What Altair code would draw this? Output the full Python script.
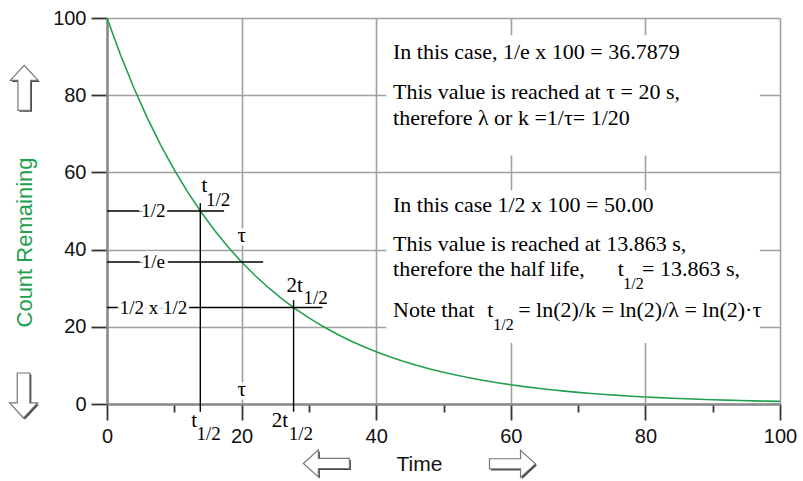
import altair as alt
import pandas as pd

# Radioactive decay: count remaining vs time (s), tau = 20 s
time_s = list(range(0, 101, 2))
count = [100.0, 90.48, 81.87, 74.08, 67.03, 60.65, 54.88, 49.66, 44.93, 40.66,
         36.79, 33.29, 30.12, 27.25, 24.66, 22.31, 20.19, 18.27, 16.53, 14.96,
         13.53, 12.25, 11.08, 10.03, 9.07, 8.21, 7.43, 6.72, 6.08, 5.50,
         4.98, 4.50, 4.08, 3.69, 3.34, 3.02, 2.73, 2.47, 2.24, 2.02,
         1.83, 1.66, 1.50, 1.36, 1.23, 1.11, 1.01, 0.91, 0.82, 0.74, 0.67]

TAU = 20.0
T_HALF = 13.863
TWO_T_HALF = 27.726
ONE_OVER_E = 36.7879
HALF = 50.0
QUARTER = 25.0

GREEN = "#23a04f"
SERIF = "Liberation Serif"
SANS = "Liberation Sans"

xs = alt.Scale(domain=[0, 100], nice=False, zero=False)
ys = alt.Scale(domain=[0, 100], nice=False, zero=False)
MAJOR = "datum.value % 20 === 0"


def axis_common(**kw):
    return alt.Axis(
        values=list(range(0, 101, 10)),
        labelExpr=f"{MAJOR} ? datum.label : ''",
        labelFont=SANS, labelFontSize=20, labelColor="#111",
        labelFlush=False, labelOverlap=False,
        tickSize={"condition": {"test": MAJOR, "value": 16}, "value": 8},
        tickColor="#333", tickWidth=1.8,
        domainColor="#8a8a8a", domainWidth=2.5,
        gridColor="#a0a0a0", gridWidth=1.6,
        gridOpacity={"condition": {"test": MAJOR, "value": 1}, "value": 0},
        titleFont=SANS, titleFontWeight="normal",
        **kw,
    )


x_axis = axis_common(title="Time", titleX=312, titleY=66, titleBaseline="alphabetic",
                     titleAlign="center", titleColor="#111", titleFontSize=21,
                     labelPadding=6)
y_axis = axis_common(title="Count Remaining", titleAngle=270, titleX=-83, titleY=224,
                     titleBaseline="middle", titleAlign="center", titleColor=GREEN,
                     titleFontSize=22, labelPadding=5)

curve_df = pd.DataFrame({"t": time_s, "n": count})

# white panels behind the explanatory notes
boxes = pd.DataFrame({
    "x": [41.5, 41.5], "x2": [97.0, 97.0],
    "y": [95.5, 55.4], "y2": [64.4, 15.8],
})

# construction lines for 1/2, 1/e and 1/4 levels
guides = pd.DataFrame({
    "x":  [0, 0, 0, T_HALF, TWO_T_HALF],
    "x2": [17.4, 23.2, 32.0, T_HALF, TWO_T_HALF],
    "y":  [HALF, ONE_OVER_E, QUARTER, -2.0, -2.0],
    "y2": [HALF, ONE_OVER_E, QUARTER, 52.0, 26.9],
})

level_labels = pd.DataFrame({
    "x": [6.9, 6.9, 6.9],
    "y": [HALF, ONE_OVER_E, QUARTER],
    "label": ["1/2", "1/e", "1/2 x 1/2"],
})

tau_labels = pd.DataFrame({"x": [TAU, TAU], "y": [41.9, 2.1], "label": ["τ", "τ"]})

# t and 2t with their 1/2 subscripts
t_main = pd.DataFrame({
    "x": [14.9, 29.1, 13.4, 26.9],
    "y": [54.8, 29.0, -5.95, -5.95],
    "label": ["t", "2t", "t", "2t"],
})
t_sub = pd.DataFrame({
    "x": [14.7, 29.2, 13.3, 27.0],
    "y": [51.3, 26.0, -9.3, -9.3],
    "label": ["1/2", "1/2", "1/2", "1/2"],
})

notes = pd.DataFrame({
    "x": [42.5, 42.5, 42.5, 42.5, 42.5, 42.5, 75.9, 79.5, 42.5, 56.5, 61.1],
    "y": [89.5, 79.0, 72.4, 49.7, 39.6, 33.1, 33.1, 33.1, 22.5, 22.5, 22.5],
    "label": [
        "In this case, 1/e x 100 = 36.7879",
        "This value is reached at  τ = 20 s,",
        "therefore  λ or k =1/τ= 1/20",
        "In this case 1/2 x 100 = 50.00",
        "This value is reached at 13.863 s,",
        "therefore the half life,",
        "t",
        "= 13.863 s,",
        "Note that",
        "t",
        "= ln(2)/k = ln(2)/λ = ln(2)·τ",
    ],
})
notes_sub = pd.DataFrame({"x": [76.7, 57.4], "y": [29.9, 19.3], "label": ["1/2", "1/2"]})

UP = "M0,-1 L0.62,-0.33 L0.28,-0.33 L0.28,1 L-0.28,1 L-0.28,-0.33 L-0.62,-0.33 Z"
DOWN = "M0,1 L0.62,0.33 L0.28,0.33 L0.28,-1 L-0.28,-1 L-0.28,0.33 L-0.62,0.33 Z"
LEFT = "M-1,0 L-0.35,-0.59 L-0.35,-0.22 L1,-0.22 L1,0.22 L-0.35,0.22 L-0.35,0.59 Z"
RIGHT = "M1,0 L0.35,-0.59 L0.35,-0.22 L-1,-0.22 L-1,0.22 L0.35,0.22 L0.35,0.59 Z"
arrows = pd.DataFrame({
    "x": [-12.3, -12.4, 32.6, 60.25],
    "y": [81.9, 2.2, -15.4, -15.5],
    "dir": ["up", "down", "left", "right"],
    "sz": [2025, 2025, 2116, 2116],
})
shape_scale = alt.Scale(domain=["up", "down", "left", "right"], range=[UP, DOWN, LEFT, RIGHT])


def xy(xf="x", yf="y"):
    return dict(x=alt.X(f"{xf}:Q", scale=xs), y=alt.Y(f"{yf}:Q", scale=ys))


curve = alt.Chart(curve_df).mark_line(color=GREEN, strokeWidth=1.6).encode(
    x=alt.X("t:Q", scale=xs, axis=x_axis),
    y=alt.Y("n:Q", scale=ys, axis=y_axis),
)

box_layer = alt.Chart(boxes).mark_rect(fill="white", stroke=None).encode(
    x2="x2:Q", y2="y2:Q", **xy())

guide_layer = alt.Chart(guides).mark_rule(color="#000", strokeWidth=1.4).encode(
    x2="x2:Q", y2="y2:Q", **xy())

level_halo = alt.Chart(level_labels).mark_text(
    font=SERIF, fontSize=19, baseline="middle", align="center",
    stroke="white", strokeWidth=7, fill="white").encode(text="label:N", **xy())
level_text = alt.Chart(level_labels).mark_text(
    font=SERIF, fontSize=19, baseline="middle", align="center", color="#000"
).encode(text="label:N", **xy())

tau_halo = alt.Chart(tau_labels).mark_text(
    font=SERIF, fontSize=21, baseline="alphabetic", align="center",
    stroke="white", strokeWidth=7, fill="white").encode(text="label:N", **xy())
tau_text = alt.Chart(tau_labels).mark_text(
    font=SERIF, fontSize=21, baseline="alphabetic", align="center", color="#000"
).encode(text="label:N", **xy())

t_main_text = alt.Chart(t_main).mark_text(
    font=SERIF, fontSize=21, baseline="alphabetic", align="right", color="#000"
).encode(text="label:N", **xy())
t_sub_text = alt.Chart(t_sub).mark_text(
    font=SERIF, fontSize=19, baseline="alphabetic", align="left", color="#000"
).encode(text="label:N", **xy())

notes_text = alt.Chart(notes).mark_text(
    font=SERIF, fontSize=22, baseline="alphabetic", align="left", color="#000"
).encode(text="label:N", **xy())
notes_sub_text = alt.Chart(notes_sub).mark_text(
    font=SERIF, fontSize=16, baseline="alphabetic", align="left", color="#000"
).encode(text="label:N", **xy())

arrow_shadow = alt.Chart(arrows).mark_point(
    filled=True, fill="#444", stroke=None, opacity=1, xOffset=1.5, yOffset=1.5
).encode(shape=alt.Shape("dir:N", scale=shape_scale, legend=None),
         size=alt.Size("sz:Q", scale=None), **xy())
arrow_face = alt.Chart(arrows).mark_point(
    filled=True, fill="white", stroke="#777", strokeWidth=1.2, opacity=1
).encode(shape=alt.Shape("dir:N", scale=shape_scale, legend=None),
         size=alt.Size("sz:Q", scale=None), **xy())

chart = alt.layer(
    curve, box_layer, guide_layer,
    level_halo, level_text, tau_halo, tau_text,
    t_main_text, t_sub_text, notes_text, notes_sub_text,
    arrow_shadow, arrow_face,
).properties(
    width=673, height=386,
    padding={"left": 107, "top": 18, "right": 23, "bottom": 77},
    autosize=alt.AutoSizeParams(type="none"),
    background="white",
).configure_view(stroke=None)

chart.save("out.html", embed_options={"renderer": "svg", "actions": False})
